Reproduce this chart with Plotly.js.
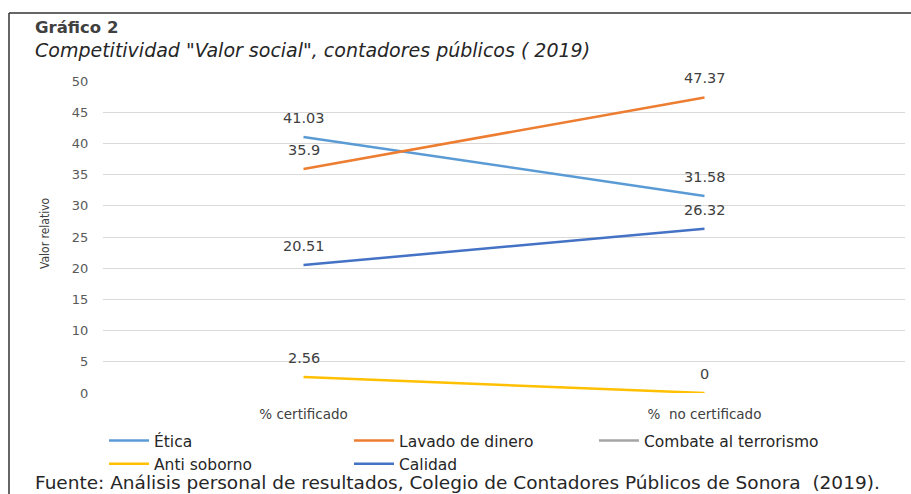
<!DOCTYPE html>
<html><head><meta charset="utf-8">
<script src="https://cdn.plot.ly/plotly-3.0.1.min.js"></script>
<style>html,body{margin:0;padding:0;background:#fff;}#chart{width:911px;height:494px;}</style>
</head><body><div id="chart"></div>
<script>
const categories = ["% certificado", "%  no certificado"];
const seriesNames = ["Ética", "Lavado de dinero", "Combate al terrorismo", "Anti soborno", "Calidad"];
const etica = [41.03, 31.58];
const lavado = [35.9, 47.37];
const combate = [null, null];
const antisoborno = [2.56, 0];
const calidad = [20.51, 26.32];
const yTicks = [0, 5, 10, 15, 20, 25, 30, 35, 40, 45, 50];

const colors = ["#5B9BD5", "#ED7D31", "#A5A5A5", "#FFC000", "#4472C4"];
const allValues = [etica, lavado, combate, antisoborno, calidad];

const L = 103, R = 6, T = 81, B = 101, W = 911, H = 494;
const pw = W - L - R, ph = H - T - B;
const px = p => (p - L) / pw;
const py = p => (H - B - p) / ph;

const traces = allValues.map((vals, i) => ({
  type: 'scatter',
  mode: 'lines',
  x: categories,
  y: vals,
  name: seriesNames[i],
  line: {color: colors[i], width: 2.5},
  cliponaxis: false,
  hoverinfo: 'x+y+name'
}));

const labelAnnotations = [];
allValues.forEach(vals => {
  vals.forEach((v, j) => {
    if (v === null) return;
    labelAnnotations.push({
      xref: 'x', yref: 'y', x: categories[j], y: v, yshift: 19,
      text: String(v), showarrow: false, xanchor: 'center', yanchor: 'middle',
      font: {family: 'DejaVu Sans', size: 14.5, color: '#404040'}
    });
  });
});

const layout = {
  width: W, height: H,
  margin: {l: L, r: R, t: T, b: B, pad: 0},
  paper_bgcolor: '#ffffff', plot_bgcolor: '#ffffff',
  showlegend: true,
  legend: {
    orientation: 'h', x: px(104), xanchor: 'left', y: py(424), yanchor: 'top',
    font: {family: 'DejaVu Sans', size: 15.5, color: '#262626'},
    entrywidth: 190, entrywidthmode: 'pixels', itemwidth: 40,
    tracegroupgap: 0, bgcolor: 'rgba(0,0,0,0)'
  },
  xaxis: {
    type: 'category', range: [-0.5, 1.5],
    showgrid: false, zeroline: false, showline: false,
    ticks: 'outside', ticklen: 9, tickcolor: 'rgba(0,0,0,0)',
    tickfont: {family: 'DejaVu Sans', size: 13.5, color: '#404040'}
  },
  yaxis: {
    range: [0, 50], tickvals: yTicks, ticktext: yTicks.map(String),
    showgrid: true, gridcolor: '#D9D9D9', gridwidth: 1,
    zeroline: false, showline: false,
    ticks: 'outside', ticklen: 11, tickcolor: 'rgba(0,0,0,0)',
    tickfont: {family: 'DejaVu Sans', size: 13, color: '#595959'}
  },
  annotations: [
    {xref: 'paper', yref: 'paper', x: px(33), y: py(28), xanchor: 'left', yanchor: 'middle',
     text: '<b>Gráfico 2</b>', showarrow: false,
     font: {family: 'DejaVu Sans', size: 16.5, color: '#404040'}},
    {xref: 'paper', yref: 'paper', x: px(33), y: py(50), xanchor: 'left', yanchor: 'middle',
     text: '<i>Competitividad "Valor social", contadores públicos ( 2019)</i>', showarrow: false,
     font: {family: 'DejaVu Sans', size: 19, color: '#262626'}},
    {xref: 'paper', yref: 'paper', x: px(45), y: py(233), xanchor: 'center', yanchor: 'middle',
     text: 'Valor relativo', textangle: -90, showarrow: false,
     font: {family: 'DejaVu Sans Condensed', size: 12, color: '#404040'}},
    {xref: 'paper', yref: 'paper', x: px(33), y: py(483), xanchor: 'left', yanchor: 'middle',
     text: 'Fuente: Análisis personal de resultados, Colegio de Contadores Públicos de Sonora  (2019).', showarrow: false,
     font: {family: 'DejaVu Sans', size: 18.5, color: '#262626'}}
  ].concat(labelAnnotations),
  shapes: [
    {type: 'line', xref: 'paper', yref: 'paper', x0: px(9), x1: px(911), y0: py(13), y1: py(13),
     line: {color: '#333333', width: 1.5}},
    {type: 'line', xref: 'paper', yref: 'paper', x0: px(9), x1: px(9), y0: py(13), y1: py(494),
     line: {color: '#333333', width: 1.5}}
  ]
};

Plotly.newPlot('chart', traces, layout, {displayModeBar: false, staticPlot: true});
</script></body></html>
